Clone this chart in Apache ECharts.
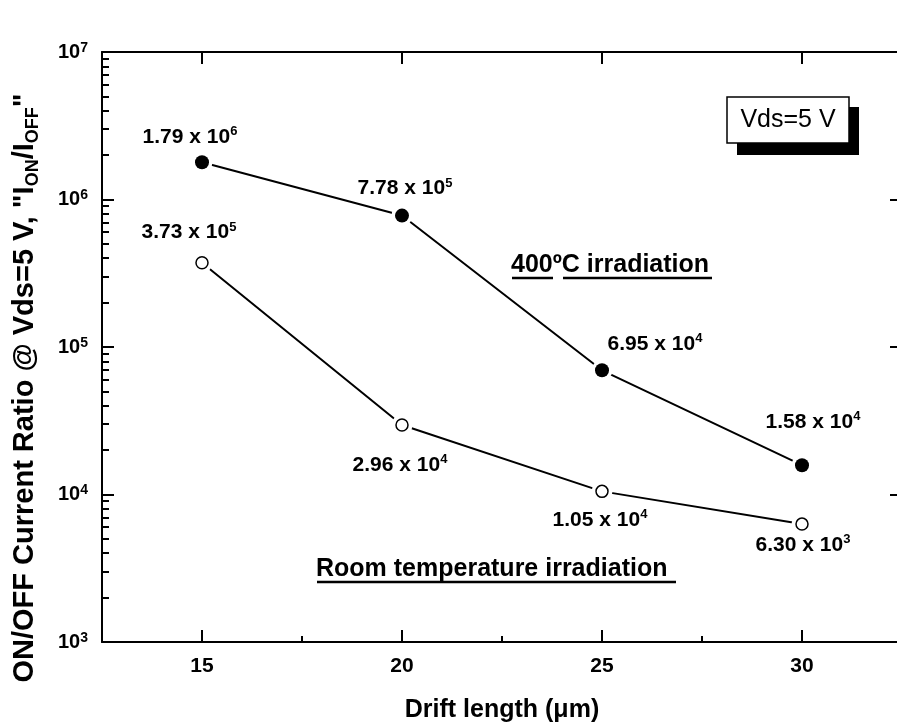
<!DOCTYPE html>
<html>
<head>
<meta charset="utf-8">
<script src="https://cdn.jsdelivr.net/npm/echarts@6/dist/echarts.min.js"></script>
<style>
  html, body { margin: 0; padding: 0; background: #fff; }
  #chart { width: 897px; height: 727px; }
</style>
</head>
<body>
<div id="chart"></div>
<script>
// Drift length (µm) and ON/OFF current ratio at Vds = 5 V
const driftLength = [15, 20, 25, 30];
const ratio400C = [1.79e6, 7.78e5, 6.95e4, 1.58e4];
const ratioRoomTemp = [3.73e5, 2.96e4, 1.05e4, 6.30e3];

// axis ticks
const xMajorTicks = [15, 20, 25, 30];
const xMinorTicks = [17.5, 22.5, 27.5];
const yDecades = [1e3, 1e4, 1e5, 1e6, 1e7];

// label offsets (px) relative to each marker centre
const offsets400C = [[-12, -25], [3, -27], [53, -26], [11, -43]];
const offsetsRoomTemp = [[-13, -30], [-2, 40], [-2, 29], [1, 21]];

const FONT = "'Liberation Sans', Arial, Helvetica, sans-serif";

// minor log ticks 2..9 within each decade
const yMinorTicks = [];
yDecades.slice(0, -1).forEach(d => {
  for (let k = 2; k <= 9; k++) yMinorTicks.push(k * d);
});

function sciLabel(v) {
  const e = Math.floor(Math.log10(v) + 1e-9);
  const m = (v / Math.pow(10, e)).toFixed(2);
  return '{n|' + m + ' x 10}{s|' + e + '}';
}

const labelRich = {
  n: { fontFamily: FONT, fontSize: 21, fontWeight: 'bold', color: '#000', lineHeight: 24 },
  s: { fontFamily: FONT, fontSize: 13, fontWeight: 'bold', color: '#000', lineHeight: 9, verticalAlign: 'top' }
};

function pointData(xs, ys, offs) {
  return xs.map((x, i) => ({
    value: [x, ys[i]],
    label: { offset: offs[i] }
  }));
}

const axisBlack = { color: '#000', width: 2 };
const X_MIN = 12.5, X_MAX = 32.5;
const Y_MIN = 1e3, Y_MAX = 1e7;

const option = {
  backgroundColor: '#fff',
  animation: false,
  grid: { left: 102, top: 52, width: 800, height: 590, outerBoundsMode: 'none', containLabel: false },
  xAxis: [
    {
      type: 'value', position: 'bottom', min: X_MIN, max: X_MAX,
      axisLine: { show: true, onZero: false, lineStyle: axisBlack },
      axisTick: { show: true, inside: true, length: 12, customValues: xMajorTicks, lineStyle: axisBlack },
      axisLabel: { customValues: xMajorTicks, fontFamily: FONT, fontSize: 21, fontWeight: 'bold', color: '#000', margin: 14 },
      splitLine: { show: false },
      name: 'Drift length (\u03bcm)', nameLocation: 'middle', nameGap: 56,
      nameTextStyle: { fontFamily: FONT, fontSize: 25, fontWeight: 'bold', color: '#000' }
    },
    {
      type: 'value', position: 'bottom', min: X_MIN, max: X_MAX,
      axisLine: { show: false, onZero: false },
      axisTick: { show: true, inside: true, length: 6, customValues: xMinorTicks, lineStyle: axisBlack },
      axisLabel: { show: false },
      splitLine: { show: false }
    },
    {
      type: 'value', position: 'top', min: X_MIN, max: X_MAX,
      axisLine: { show: true, onZero: false, lineStyle: axisBlack },
      axisTick: { show: true, inside: true, length: 12, customValues: xMajorTicks, lineStyle: axisBlack },
      axisLabel: { show: false },
      splitLine: { show: false }
    }
  ],
  yAxis: [
    {
      type: 'log', logBase: 10, position: 'left', min: Y_MIN, max: Y_MAX,
      axisLine: { show: true, lineStyle: axisBlack },
      axisTick: { show: true, inside: true, length: 12, lineStyle: axisBlack },
      axisLabel: {
        fontFamily: FONT, margin: 14,
        formatter: v => '{b|10}{s|' + Math.round(Math.log10(v)) + '}',
        rich: {
          b: { fontFamily: FONT, fontSize: 20, fontWeight: 'bold', color: '#000', lineHeight: 22 },
          s: { fontFamily: FONT, fontSize: 14, fontWeight: 'bold', color: '#000', lineHeight: 9, verticalAlign: 'top' }
        }
      },
      splitLine: { show: false },
      name: '{t|ON/OFF Current Ratio @ Vds=5 V, "I}{u|ON}{t|/I}{u|OFF}{t|"}',
      nameLocation: 'middle', nameGap: 60, nameRotate: 90,
      nameTextStyle: {
        padding: [0, 82, 0, 0],
        rich: {
          t: { fontFamily: FONT, fontSize: 29, fontWeight: 'bold', color: '#000', lineHeight: 34 },
          u: { fontFamily: FONT, fontSize: 18, fontWeight: 'bold', color: '#000', lineHeight: 18, verticalAlign: 'bottom' }
        }
      }
    },
    {
      type: 'log', logBase: 10, position: 'left', min: Y_MIN, max: Y_MAX,
      axisLine: { show: false },
      axisTick: { show: true, inside: true, length: 7, customValues: yMinorTicks, lineStyle: axisBlack },
      axisLabel: { show: false },
      splitLine: { show: false }
    },
    {
      type: 'log', logBase: 10, position: 'right', min: Y_MIN, max: Y_MAX,
      axisLine: { show: true, lineStyle: axisBlack },
      axisTick: { show: true, inside: true, length: 12, lineStyle: axisBlack },
      axisLabel: { show: false },
      splitLine: { show: false }
    }
  ],
  series: [
    // connecting lines; white symbols leave a small gap around each marker
    {
      type: 'line', name: '400C line', data: driftLength.map((x, i) => [x, ratio400C[i]]),
      lineStyle: { color: '#000', width: 2 }, symbol: 'circle', symbolSize: 21,
      itemStyle: { color: '#fff', borderWidth: 0, opacity: 1 }, z: 2, silent: true
    },
    {
      type: 'line', name: 'RT line', data: driftLength.map((x, i) => [x, ratioRoomTemp[i]]),
      lineStyle: { color: '#000', width: 2 }, symbol: 'circle', symbolSize: 21,
      itemStyle: { color: '#fff', borderWidth: 0, opacity: 1 }, z: 2, silent: true
    },
    {
      type: 'scatter', name: '400\u00baC irradiation',
      data: pointData(driftLength, ratio400C, offsets400C),
      symbol: 'circle', symbolSize: 14,
      itemStyle: { color: '#000', opacity: 1 }, z: 3,
      label: {
        show: true, position: 'inside',
        formatter: p => sciLabel(p.value[1]), rich: labelRich
      }
    },
    {
      type: 'scatter', name: 'Room temperature irradiation',
      data: pointData(driftLength, ratioRoomTemp, offsetsRoomTemp),
      symbol: 'circle', symbolSize: 12,
      itemStyle: { color: '#fff', borderColor: '#000', borderWidth: 1.5, opacity: 1 }, z: 3,
      label: {
        show: true, position: 'inside',
        formatter: p => sciLabel(p.value[1]), rich: labelRich
      }
    }
  ],
  graphic: [
    // bias condition box with drop shadow
    { type: 'rect', shape: { x: 737, y: 107, width: 122, height: 48 }, style: { fill: '#000' }, z: 10 },
    { type: 'rect', shape: { x: 727, y: 97, width: 122, height: 46 }, style: { fill: '#fff', stroke: '#000', lineWidth: 1.5 }, z: 11 },
    { type: 'text', x: 788, y: 120, style: { text: 'Vds=5 V', font: "normal 25px 'Liberation Sans', Arial, sans-serif", fill: '#000', align: 'center', verticalAlign: 'middle' }, z: 12 },
    // curve annotations
    { type: 'text', x: 511, y: 265, style: { text: '400\u00baC irradiation', font: "bold 25px 'Liberation Sans', Arial, sans-serif", fill: '#000', align: 'left', verticalAlign: 'middle' }, z: 12 },
    { type: 'line', shape: { x1: 512, y1: 278, x2: 553, y2: 278 }, style: { stroke: '#000', lineWidth: 2.5 }, z: 12 },
    { type: 'line', shape: { x1: 563, y1: 278, x2: 712, y2: 278 }, style: { stroke: '#000', lineWidth: 2.5 }, z: 12 },
    { type: 'text', x: 316, y: 569, style: { text: 'Room temperature irradiation', font: "bold 25px 'Liberation Sans', Arial, sans-serif", fill: '#000', align: 'left', verticalAlign: 'middle' }, z: 12 },
    { type: 'line', shape: { x1: 317, y1: 582, x2: 676, y2: 582 }, style: { stroke: '#000', lineWidth: 2.5 }, z: 12 }
  ]
};

const chart = echarts.init(document.getElementById('chart'), null, { renderer: 'canvas' });
chart.setOption(option);
</script>
</body>
</html>
